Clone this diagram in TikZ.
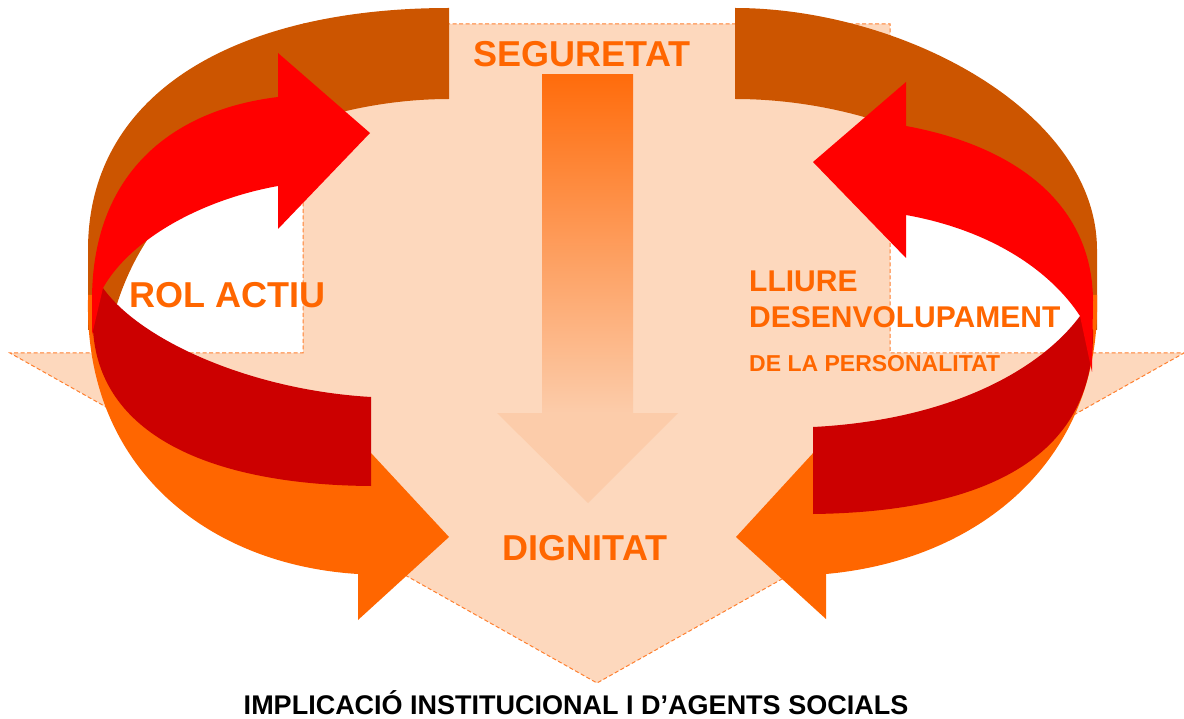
\documentclass[tikz,border=0pt]{standalone}
\usepackage{fontspec}
\setmainfont{Liberation Sans}

\definecolor{peach}{RGB}{253,216,189}
\definecolor{peachdark}{RGB}{252,204,170}
\definecolor{dashorange}{RGB}{255,128,48}
\definecolor{arrtop}{RGB}{255,108,12}
\definecolor{ringbrown}{RGB}{204,85,0}
\definecolor{ringred}{RGB}{255,0,0}
\definecolor{ringdark}{RGB}{204,0,0}
\definecolor{ringorange}{RGB}{255,102,0}

\tikzset{
  biglbl/.style={text=ringorange, font=\bfseries\fontsize{36}{40}\selectfont, inner sep=0pt},
  midlbl/.style={text=ringorange, font=\bfseries\fontsize{30}{34}\selectfont, inner sep=0pt, anchor=base west},
  smalllbl/.style={text=ringorange, font=\bfseries\fontsize{23}{26}\selectfont, inner sep=0pt, anchor=base west},
  footlbl/.style={text=black, font=\bfseries\fontsize{27}{30}\selectfont, inner sep=0pt, anchor=base}
}

\begin{document}
\begin{tikzpicture}[x=1pt, y=-1pt]
\useasboundingbox (0,0) rectangle (1184,719);

%%%%%%%%%%%% Background arrow
\path[fill=peach, draw=dashorange, line width=1pt, dash pattern=on 4pt off 2.5pt]
  (303,24) -- (890,24) -- (890,353) -- (1184,353) -- (597,683) -- (10,353) -- (303,353) -- cycle;
\shade[top color=arrtop, bottom color=peachdark] (542,75) rectangle (633,413);
\fill[peachdark] (497,413) -- (678,413) -- (588,503) -- cycle;

%%%%%%%%%%%% Back wall of the ring
\fill[ringbrown] (449,8) -- (449,99) .. controls (330,99) and (150,150) .. (110,330)
  -- (88,330) -- (88,250) .. controls (88,90) and (240,8) .. (449,8) -- cycle;
\fill[ringbrown] (735,8) -- (735,99) .. controls (880,99) and (1060,170) .. (1085,330)
  -- (1097,330) -- (1097,250) .. controls (1097,110) and (900,8) .. (735,8) -- cycle;

%%%%%%%%%%%% Front wall with the lower arrow heads
\fill[ringorange] (88,295) -- (88,300) .. controls (85,470) and (210,565) .. (358,574)
  -- (358,620) -- (449,537) -- (358,439) .. controls (200,430) and (100,380) .. (93,295) -- cycle;
\fill[ringorange] (1097,295) -- (1097,300) .. controls (1100,460) and (980,560) .. (826,574)
  -- (826,619) -- (736,537) -- (826,439) .. controls (980,440) and (1090,390) .. (1092,295) -- cycle;

%%%%%%%%%%%% Lower faces
\fill[ringdark] (103,288) .. controls (140,340) and (250,390) .. (371,397) -- (371,486)
  .. controls (220,485) and (100,440) .. (93,330) -- (93,300) -- cycle;
\fill[ringdark] (1080,316) .. controls (1040,370) and (950,420) .. (813,427) -- (813,514)
  .. controls (980,512) and (1095,460) .. (1093,330) -- cycle;

%%%%%%%%%%%% Upper faces with the top arrow heads
\fill[ringred] (92,335) -- (92,300) .. controls (92,175) and (170,110) .. (278,97)
  -- (278,53) -- (370,133) -- (278,229) -- (278,186)
  .. controls (200,200) and (130,240) .. (103,288) -- cycle;
\fill[ringred] (1092,372) -- (1093,300) .. controls (1092,200) and (1010,145) .. (906,126)
  -- (906,82) -- (813,162) -- (906,258) -- (906,215)
  .. controls (990,230) and (1050,270) .. (1080,316) -- cycle;

%%%%%%%%%%%% Labels
\node[biglbl, anchor=base] (seg) at (582,67) {SEGURETAT};
\node[biglbl, anchor=base] (dig) at (585,560) {DIGNITAT};
\node[biglbl, anchor=base west] (rol) at (129,308) {ROL ACTIU};
\node[midlbl] (lliure) at (749,292) {LLIURE};
\node[midlbl] (desen) at (749,328) {DESENVOLUPAMENT};
\node[smalllbl] (perso) at (749,372) {DE LA PERSONALITAT};
\node[footlbl] (impl) at (576,714) {IMPLICACIÓ INSTITUCIONAL I D’AGENTS SOCIALS};
\end{tikzpicture}
\end{document}
